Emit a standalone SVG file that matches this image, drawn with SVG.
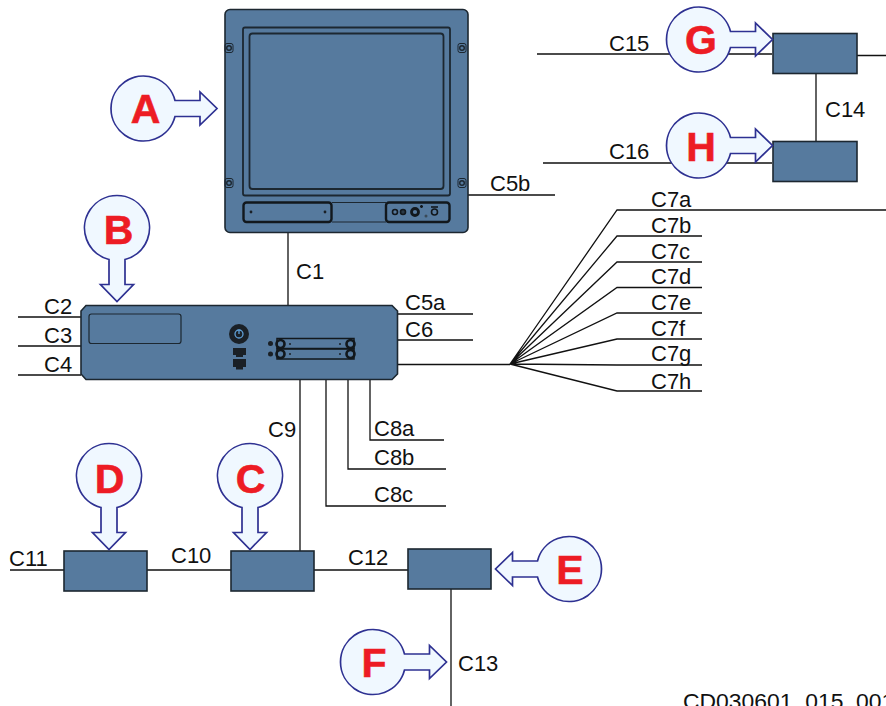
<svg xmlns="http://www.w3.org/2000/svg" width="886" height="706" viewBox="0 0 886 706">
<style>
text{font-family:"Liberation Sans",Arial,sans-serif}
.l{font-size:22px;fill:#111}
.code{font-size:22.900px}
.w{fill:none;stroke:#111;stroke-width:1.3}
.b{fill:#567a9e;stroke:#1c2730;stroke-width:1.6}
.d{fill:none;stroke:#1c2730;stroke-width:1.800}
.d2{fill:none;stroke:#12181d;stroke-width:2.400}
.d1{fill:none;stroke:#1c2730;stroke-width:1.200}
.k{fill:#1a2026;stroke:none}
.c{fill:#f0f8ff;stroke:#2e3192;stroke-width:1.7}
.n{font-size:41px;font-weight:700;fill:#ed1c24;stroke:#ed1c24;stroke-width:.6;text-anchor:middle}
</style>
<defs>
<path id="call" class="c" d="M31.5,-8H56.5V-16.5L73.5,0L56.5,16.5V8H31.5A32.5,32.5 0 1 1 31.5,-8Z"/>
<g id="screw"><rect x="-4" y="-4.5" width="8" height="9" rx="2" fill="none" stroke="#1c2730" stroke-width="1"/><circle r="2.3" fill="none" stroke="#1c2730" stroke-width="1.4"/></g>
<g id="sock"><circle r="4" fill="none" stroke="#12181d" stroke-width="2.6"/></g>
</defs>

<g id="connectors">
<path class="w" d="M288,233V305M468,195H555M397,314H473M397,340H473M397,364.5H510"/>
<path class="w" d="M886,210H617L510,364M702,236H617L510,364M702,262H617L510,364M702,287.5H617L510,364M702,313H617L510,364M702,339H617L510,364M702,365H617L510,364M702,391H617L510,364"/>
<path class="w" d="M18,317H81M18,346H81M18,375H81"/>
<path class="w" d="M300,380V551M326,380V506H446M348,380V469H446M370,380V440H444"/>
<path class="w" d="M10,570H64M147,570H231M314,570H408M451,589V706"/>
<path class="w" d="M537,54H772M543,163H772M857,55.5H886M816,73V141"/>
</g>

<g id="monitor">
<rect class="b" x="225" y="9.500" width="243" height="223" rx="5"/>
<rect class="d" x="243" y="27.500" width="207" height="168" rx="2"/>
<rect class="d" x="249.500" y="33.500" width="194" height="155.500" rx="3"/>
<rect class="d2" x="243.500" y="202.500" width="88" height="19.500" rx="3"/>
<rect class="d2" x="386" y="202.500" width="63.500" height="19.500" rx="3"/>
<path d="M332,202.500H386M332,222H386" fill="none" stroke="#1c2730" stroke-width="1"/>
<use href="#screw" x="229" y="48"/><use href="#screw" x="462" y="48"/>
<use href="#screw" x="229" y="183"/><use href="#screw" x="462" y="183"/>
<circle class="k" cx="251" cy="212" r="1.400"/><circle class="k" cx="325" cy="212" r="1.400"/>
<circle cx="395" cy="212" r="2.500" fill="none" stroke="#12181d" stroke-width="1.600"/>
<circle cx="403" cy="212" r="2.500" fill="#2b3a47" stroke="#12181d" stroke-width="1.600"/>
<circle cx="415" cy="212" r="3.500" fill="none" stroke="#12181d" stroke-width="2.800"/>
<path d="M420,206.500h3M421.500,205v3" stroke="#12181d" stroke-width="1.600" fill="none"/>
<circle cx="426" cy="216" r="1.500" fill="#3a4a58"/>
<path d="M431,207H438" stroke="#12181d" stroke-width="1.600" fill="none"/>
<circle cx="434.500" cy="212" r="3" fill="none" stroke="#12181d" stroke-width="1.600"/>
</g>

<g id="control-unit">
<path class="b" d="M86,305.500H392L397.500,311V374L392,379.500H86L81,374V311Z"/>
<rect class="d1" x="89" y="314" width="92" height="29.500" rx="2.500"/>
<circle class="k" cx="239" cy="334" r="10"/>
<circle cx="239" cy="334" r="4" fill="none" stroke="#5f9fd6" stroke-width="1.300"/>
<path d="M239,329.500V334" stroke="#5f9fd6" stroke-width="1.300"/>
<rect class="k" x="233" y="348" width="13" height="7"/><rect class="k" x="236" y="355" width="7" height="2"/>
<rect class="k" x="233" y="359" width="13" height="8"/><rect class="k" x="236" y="367" width="7" height="2.500"/>
<rect x="277" y="338.500" width="77" height="10" fill="none" stroke="#12181d" stroke-width="1.500"/>
<rect x="277" y="349" width="77" height="10" fill="none" stroke="#12181d" stroke-width="1.500"/>
<use href="#sock" x="280.500" y="344"/><use href="#sock" x="350.500" y="344"/>
<use href="#sock" x="280.500" y="354"/><use href="#sock" x="350.500" y="354"/>
<circle class="k" cx="270.500" cy="343.500" r="2.500"/><circle class="k" cx="270.500" cy="354" r="2.500"/>
<circle class="k" cx="290" cy="344" r="1"/><circle class="k" cx="340" cy="344" r="1"/>
<circle class="k" cx="290" cy="354" r="1"/><circle class="k" cx="340" cy="354" r="1"/>
</g>

<g id="box-d"><rect class="b" x="64" y="551" width="83" height="40"/></g>
<g id="box-c"><rect class="b" x="231" y="551" width="83" height="40"/></g>
<g id="box-e"><rect class="b" x="408" y="549" width="83" height="40"/></g>
<g id="box-g"><rect class="b" x="773" y="33.500" width="84" height="40"/></g>
<g id="box-h"><rect class="b" x="773" y="141.500" width="84" height="40"/></g>

<g id="callout-a"><use href="#call" transform="translate(143.500,108.500)"/><text class="n" x="145.500" y="123">A</text></g>
<g id="callout-b"><use href="#call" transform="translate(117,228) rotate(90)"/><text class="n" x="118.500" y="244">B</text></g>
<g id="callout-c"><use href="#call" transform="translate(250,476) rotate(90)"/><text class="n" x="250.500" y="493">C</text></g>
<g id="callout-d"><use href="#call" transform="translate(109,476) rotate(90)"/><text class="n" x="109.500" y="493">D</text></g>
<g id="callout-e"><use href="#call" transform="translate(569,569) rotate(180)"/><text class="n" x="570" y="584">E</text></g>
<g id="callout-f"><use href="#call" transform="translate(373,662)"/><text class="n" x="374" y="677">F</text></g>
<g id="callout-g"><use href="#call" transform="translate(699,39.500)"/><text class="n" x="701" y="54">G</text></g>
<g id="callout-h"><use href="#call" transform="translate(699,145.500)"/><text class="n" x="701" y="161">H</text></g>

<g id="labels">
<text class="l" x="296" y="279">C1</text>
<text class="l" x="44" y="314">C2</text>
<text class="l" x="44" y="343">C3</text>
<text class="l" x="44" y="372">C4</text>
<text class="l" x="405" y="310">C5a</text>
<text class="l" x="490" y="191">C5b</text>
<text class="l" x="405" y="337">C6</text>
<text class="l" x="651" y="207">C7a</text>
<text class="l" x="651" y="233">C7b</text>
<text class="l" x="651" y="259">C7c</text>
<text class="l" x="651" y="284">C7d</text>
<text class="l" x="651" y="310">C7e</text>
<text class="l" x="651" y="336">C7f</text>
<text class="l" x="651" y="361">C7g</text>
<text class="l" x="651" y="389">C7h</text>
<text class="l" x="374" y="436">C8a</text>
<text class="l" x="374" y="465">C8b</text>
<text class="l" x="374" y="502">C8c</text>
<text class="l" x="268" y="437">C9</text>
<text class="l" x="171" y="563">C10</text>
<text class="l" x="9" y="566">C11</text>
<text class="l" x="348" y="565">C12</text>
<text class="l" x="458" y="671">C13</text>
<text class="l" x="825" y="117">C14</text>
<text class="l" x="609" y="51">C15</text>
<text class="l" x="609" y="159">C16</text>
<text class="l code" x="683" y="709">CD030601_015_001</text>
</g>
</svg>
